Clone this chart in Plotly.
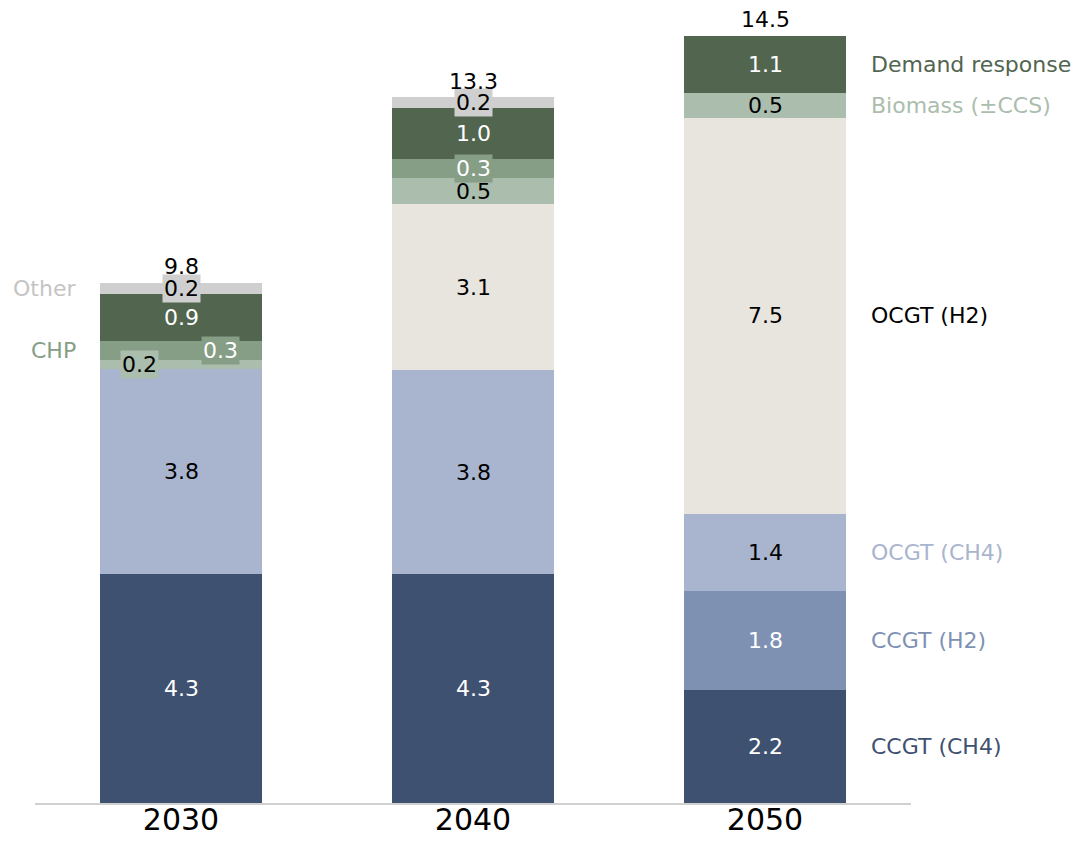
import plotly.graph_objects as go

# years on the x axis
years = ["2030", "2040", "2050"]

# GW values per technology, bottom of the stack first
ccgt_ch4 = [4.32, 4.32, 2.13]
ccgt_h2 = [0, 0, 1.87]
ocgt_ch4 = [3.87, 3.85, 1.45]
ocgt_h2 = [0, 3.13, 7.49]
biomass = [0.18, 0.50, 0.47]
chp = [0.35, 0.35, 0]
demand_resp = [0.89, 0.97, 1.07]
other = [0.21, 0.20, 0]

# labels printed on the segments (rounded in the source)
ccgt_ch4_lbl = ["4.3", "4.3", "2.2"]
ccgt_h2_lbl = [None, None, "1.8"]
ocgt_ch4_lbl = ["3.8", "3.8", "1.4"]
ocgt_h2_lbl = [None, "3.1", "7.5"]
biomass_lbl = ["0.2", "0.5", "0.5"]
chp_lbl = ["0.3", "0.3", None]
demand_lbl = ["0.9", "1.0", "1.1"]
other_lbl = ["0.2", "0.2", None]
totals_lbl = ["9.8", "13.3", "14.5"]

FONT = "DejaVu Sans"

# name, values, labels, bar colour, text colour, name colour
series = [
    ("CCGT (CH4)", ccgt_ch4, ccgt_ch4_lbl, "#3F5170", "white", "#3F5170"),
    ("CCGT (H2)", ccgt_h2, ccgt_h2_lbl, "#7F91B3", "white", "#7F91B3"),
    ("OCGT (CH4)", ocgt_ch4, ocgt_ch4_lbl, "#A9B5CE", "black", "#A9B5CE"),
    ("OCGT (H2)", ocgt_h2, ocgt_h2_lbl, "#E8E5DF", "black", "black"),
    ("Biomass (±CCS)", biomass, biomass_lbl, "#ABBDAD", "black", "#ABBDAD"),
    ("CHP", chp, chp_lbl, "#869D86", "white", "#869D86"),
    ("Demand response", demand_resp, demand_lbl, "#51654F", "white", "#51654F"),
    ("Other", other, other_lbl, "#CFCFCF", "black", "#C4C4C4"),
]

fig = go.Figure()
for name, vals, _, col, _, _ in series:
    fig.add_trace(go.Bar(x=years, y=vals, name=name, marker_color=col,
                         marker_line_width=0, width=0.555))

# little nudges for the crowded 2030 segments
shifts = {("Biomass (±CCS)", 0): -42, ("CHP", 0): 39}
boxed = {"Other", "CHP"}

# annotations on a category axis take the category index
base = [0, 0, 0]
annos = []
for name, vals, lbls, col, tcol, ncol in series:
    for i, v in enumerate(vals):
        if v and lbls[i]:
            mid = base[i] + v / 2
            a = dict(x=i, y=mid, text=lbls[i], showarrow=False,
                     font=dict(family=FONT, size=22, color=tcol),
                     xshift=shifts.get((name, i), 0))
            if name in boxed or (name, i) in shifts:
                a["bgcolor"] = col
            annos.append(a)
    # series names next to the bars
    if vals[2]:
        annos.append(dict(x=2, y=base[2] + vals[2] / 2, text=name,
                          showarrow=False, xanchor="left", xshift=104,
                          font=dict(family=FONT, size=22, color=ncol)))
    elif name in ("CHP", "Other"):
        annos.append(dict(x=0, y=base[0] + vals[0] / 2, text=name,
                          showarrow=False, xanchor="right", xshift=-103,
                          font=dict(family=FONT, size=22, color=ncol)))
    base = [b + v for b, v in zip(base, vals)]

for i, t in enumerate(totals_lbl):
    annos.append(dict(x=i, y=base[i], text=t, showarrow=False, borderpad=0,
                      yshift=16, font=dict(family=FONT, size=22, color="black")))

# page body has an 8px margin, so the figure is 8px smaller than the window
fig.update_layout(
    barmode="stack",
    width=1071, height=834,
    margin=dict(l=27, r=168, t=12, b=39),
    paper_bgcolor="white", plot_bgcolor="white",
    showlegend=False,
    annotations=annos,
    font=dict(family=FONT),
)
fig.update_xaxes(type="category", range=[-0.5, 2.5], showline=True,
                 linecolor="#D0D0D0", linewidth=2, ticks="", automargin=False,
                 tickfont=dict(family=FONT, size=30, color="black"),
                 ticklabelstandoff=-11, showgrid=False, zeroline=False)
fig.update_yaxes(visible=False, range=[0, 783 / 52.97], automargin=False,
                 showgrid=False, zeroline=False)

fig.write_html("out.html")
